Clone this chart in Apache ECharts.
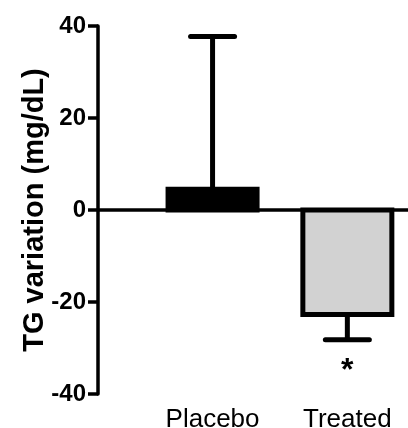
<!DOCTYPE html>
<html>
<head>
<meta charset="utf-8">
<script src="https://cdn.jsdelivr.net/npm/echarts@6/dist/echarts.min.js"></script>
<style>
html,body{margin:0;padding:0;background:#fff;}
#chart{width:408px;height:428px;}
</style>
</head>
<body>
<div id="chart"></div>
<script>
const categories = ['Placebo', 'Treated'];
const catPositions = [1, 2];
const means = [4.5, -22.7];
const errorEnds = [37.7, -28.2];
const significance = ['', '*'];
const barFills = ['#000000', '#d2d2d2'];
const yMin = -40, yMax = 40, yStep = 20;
const yAxisTitle = 'TG variation (mg/dL)';

const FONT = "'Liberation Sans', Arial, Helvetica, sans-serif";

const data = categories.map((c, i) => [catPositions[i], means[i], errorEnds[i], i]);

function renderItem(params, api) {
  const x = api.value(0), m = api.value(1), e = api.value(2), idx = api.value(3);
  const p0 = api.coord([x, 0]);
  const p1 = api.coord([x, m]);
  const pe = api.coord([x, e]);
  const halfW = 44.5, capHalf = 22;
  const children = [];
  children.push({
    type: 'line',
    shape: {x1: p1[0], y1: p1[1], x2: pe[0], y2: pe[1]},
    style: {stroke: '#000', lineWidth: 5}
  });
  children.push({
    type: 'line',
    shape: {x1: pe[0] - capHalf, y1: pe[1], x2: pe[0] + capHalf, y2: pe[1]},
    style: {stroke: '#000', lineWidth: 5, lineCap: 'round'}
  });
  children.push({
    type: 'rect',
    shape: {x: p0[0] - halfW, y: Math.min(p0[1], p1[1]), width: halfW * 2, height: Math.abs(p1[1] - p0[1])},
    style: {fill: barFills[idx], stroke: '#000', lineWidth: 5, lineJoin: 'miter'}
  });
  if (significance[idx]) {
    children.push({
      type: 'text',
      style: {
        text: significance[idx],
        x: pe[0], y: pe[1] + 15,
        align: 'center', verticalAlign: 'top',
        font: 'bold 32px ' + FONT,
        fill: '#000'
      }
    });
  }
  return {type: 'group', children: children};
}

const chart = echarts.init(document.getElementById('chart'), null, {renderer: 'canvas'});
chart.setOption({
  animation: false,
  backgroundColor: '#ffffff',
  grid: {left: 98, right: 0, top: 26, bottom: 34, containLabel: false, outerBoundsMode: 'none'},
  xAxis: {
    type: 'value', min: 0.15, max: 2.45, position: 'bottom',
    axisLine: {show: false}, axisTick: {show: false}, splitLine: {show: false},
    axisLabel: {
      customValues: catPositions,
      formatter: function (v) { const i = catPositions.indexOf(v); return i >= 0 ? categories[i] : ''; },
      fontFamily: FONT, fontSize: 26, color: '#000', margin: 13
    }
  },
  yAxis: {
    type: 'value', min: yMin, max: yMax, interval: yStep,
    axisLine: {show: true, onZero: false, lineStyle: {color: '#000', width: 3.5}},
    axisTick: {show: true, length: 10, lineStyle: {color: '#000', width: 3.5}},
    splitLine: {show: false},
    axisLabel: {fontFamily: FONT, fontSize: 24, fontWeight: 'bold', color: '#000', margin: 12},
    name: yAxisTitle, nameLocation: 'middle', nameGap: 49, nameMoveOverlap: false,
    nameTextStyle: {fontFamily: FONT, fontSize: 29, fontWeight: 'bold', color: '#000'}
  },
  series: [{
    type: 'custom',
    xAxisIndex: 0, yAxisIndex: 0,
    renderItem: renderItem,
    data: data,
    z: 2,
    markLine: {
      silent: true, symbol: ['none', 'none'], z: 1,
      label: {show: false},
      lineStyle: {color: '#000', width: 3.5, type: 'solid'},
      emphasis: {disabled: true},
      data: [{yAxis: 0}]
    }
  }]
});
</script>
</body>
</html>
